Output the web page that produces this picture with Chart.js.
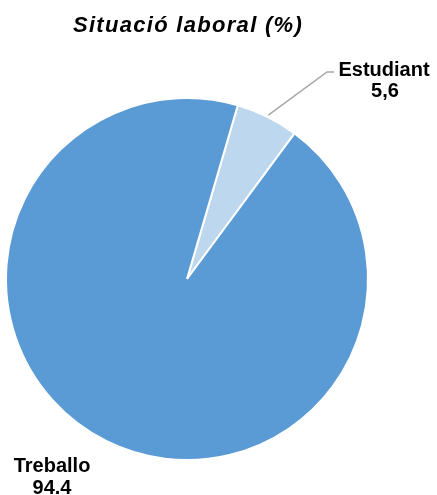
<!DOCTYPE html>
<html>
<head>
<meta charset="utf-8">
<script src="https://cdn.jsdelivr.net/npm/chart.js@4"></script>
<style>
  html, body { margin: 0; padding: 0; background: #fff; }
  #wrap { width: 437px; height: 495px; position: relative; }
</style>
</head>
<body>
<div id="wrap"><canvas id="pie"></canvas></div>
<script>
const titleText = "Situació laboral (%)";
const categories = ["Estudiant", "Treballo"];
const values = [5.6, 94.4];
const decimalMarks = [",", "."];
const colors = ["#BDD7EE", "#5B9BD5"];

const FONT = '"Liberation Sans", Arial, sans-serif';

function valueText(i) {
  return values[i].toFixed(1).replace(".", decimalMarks[i]);
}

// title + the two outside labels (one with a leader line)
const labelsPlugin = {
  id: "pieLabels",
  afterDraw(chart) {
    const ctx = chart.ctx;
    const arcs = chart.getDatasetMeta(0).data;
    ctx.save();
    ctx.fillStyle = "#000";
    ctx.textAlign = "center";
    ctx.textBaseline = "alphabetic";

    ctx.font = "italic bold 22px " + FONT;
    ctx.letterSpacing = "1.3px";
    ctx.fillText(titleText, 188, 32);
    ctx.letterSpacing = "0px";

    // Estudiant: leader from the middle of its arc
    const a = arcs[0];
    const mid = (a.startAngle + a.endAngle) / 2;
    const r = a.outerRadius + 2;
    const sx = a.x + Math.cos(mid) * r;
    const sy = a.y + Math.sin(mid) * r;
    ctx.strokeStyle = "#A6A6A6";
    ctx.lineWidth = 1.5;
    ctx.beginPath();
    ctx.moveTo(sx, sy);
    ctx.lineTo(327, 72);
    ctx.lineTo(334, 72);
    ctx.stroke();

    ctx.font = "bold 20px " + FONT;
    ctx.fillText(categories[0], 384, 76);
    ctx.fillText(valueText(0), 385, 97);

    ctx.fillText(categories[1], 52, 472);
    ctx.fillText(valueText(1), 52, 494);
    ctx.restore();
  }
};

new Chart(document.getElementById("pie"), {
  type: "pie",
  data: {
    labels: categories,
    datasets: [
      {
        data: values,
        backgroundColor: colors,
        borderColor: "#fff",
        borderWidth: 2,
      },
    ],
  },
  options: {
    responsive: true,
    maintainAspectRatio: false,
    animation: false,
    rotation: 16.3,
    layout: {
      padding: { left: 5, right: 68, top: 97, bottom: 34 },
    },
    plugins: {
      legend: { display: false },
      tooltip: { enabled: false },
    },
  },
  plugins: [labelsPlugin],
});
</script>
</body>
</html>
